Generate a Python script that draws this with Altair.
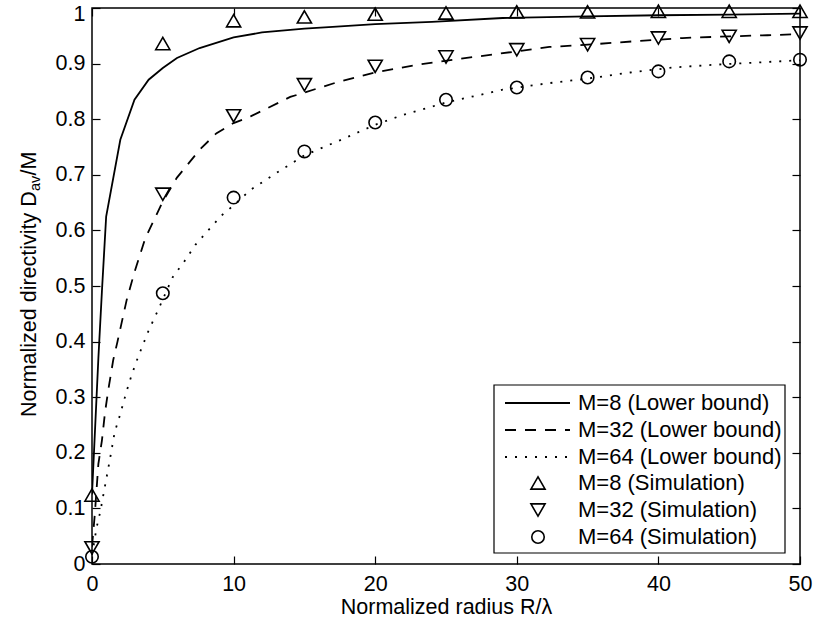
import altair as alt
import pandas as pd

FONT = "Liberation Sans"

# ---- data ----
x_sim = [0, 5, 10, 15, 20, 25, 30, 35, 40, 45, 50]
sim_m8 = [0.124, 0.936, 0.977, 0.984, 0.989, 0.991, 0.993, 0.993, 0.994, 0.994, 0.994]
sim_m32 = [0.029, 0.665, 0.806, 0.862, 0.895, 0.912, 0.925, 0.934, 0.946, 0.949, 0.955]
sim_m64 = [0.013, 0.487, 0.659, 0.742, 0.794, 0.835, 0.857, 0.875, 0.886, 0.904, 0.907]

lb8_x = [0, 0.45, 0.7, 1, 2, 3, 4, 5, 6, 7.6, 10, 12, 15, 17, 20, 24, 29, 35, 40, 45, 50]
lb8_y = [0.125, 0.37, 0.49, 0.625, 0.763, 0.835, 0.871, 0.892, 0.910, 0.928, 0.947, 0.956, 0.963,
         0.966, 0.971, 0.975, 0.982, 0.985, 0.987, 0.988, 0.990]

lb32_x = [0, 0.2, 0.45, 0.7, 0.92, 1.15, 1.5, 1.8, 2.45, 3.0, 3.75, 5, 6, 7.6, 8.8, 10, 11.2, 14,
          17.5, 20, 23, 27, 30, 32.3, 35, 38.2, 41.7, 45, 47.7, 50]
lb32_y = [0.031, 0.09, 0.18, 0.222, 0.273, 0.313, 0.367, 0.40, 0.475, 0.525, 0.585, 0.652, 0.695,
          0.745, 0.775, 0.793, 0.805, 0.84, 0.868, 0.884, 0.898, 0.912, 0.922, 0.93, 0.934, 0.94,
          0.946, 0.949, 0.951, 0.953]

lb64_x = [0, 0.33, 0.6, 0.9, 1.25, 1.6, 2, 2.4, 2.8, 3.25, 4, 4.6, 5.7, 6.6, 7.3, 8.2, 9.2, 10,
          11.2, 13, 15, 17.5, 20, 22, 25, 29, 32, 35, 38, 41, 44, 47, 50]
lb64_y = [0.016, 0.066, 0.096, 0.138, 0.186, 0.237, 0.27, 0.307, 0.34, 0.372, 0.42, 0.453, 0.516,
          0.547, 0.574, 0.60, 0.628, 0.645, 0.673, 0.703, 0.735, 0.762, 0.79, 0.808, 0.83, 0.853,
          0.864, 0.873, 0.884, 0.893, 0.898, 0.902, 0.906]

names_lb = ["M=8 (Lower bound)", "M=32 (Lower bound)", "M=64 (Lower bound)"]
names_sim = ["M=8 (Simulation)", "M=32 (Simulation)", "M=64 (Simulation)"]

x_ticks = [0, 10, 20, 30, 40, 50]
y_ticks = [0, 0.1, 0.2, 0.3, 0.4, 0.5, 0.6, 0.7, 0.8, 0.9, 1.0]

# ---- styling ----
W, H = 708, 556
FS = 21.5
TICK = 8
LW = 1.8
dashes = [None, [11, 9], [2, 8]]
shapes = ["triangle-up", "triangle-down", "circle"]
sizes = [200, 200, 155]

xs = alt.Scale(domain=[0, 50], nice=False, zero=False)
ys = alt.Scale(domain=[0, 1], nice=False, zero=False)

common_axis = dict(domain=False, grid=False, tickSize=TICK, offset=-TICK, tickColor="black",
                   tickWidth=1.2, labelColor="black", labelFont=FONT, labelFontSize=FS,
                   labelFlush=False, labelOverlap=False)

x_bottom = alt.Axis(orient="bottom", values=x_ticks, format="d", labelPadding=9,
                    title="Normalized radius R/λ", titleFont=FONT, titleFontSize=FS,
                    titleFontWeight="normal", titleColor="black", titlePadding=2, **common_axis)
y_left = alt.Axis(orient="left", values=y_ticks, format=".1~f", labelPadding=7, title=None,
                  labelOffset={"condition": {"test": "datum.value >= 1", "value": 6}, "value": 0},
                  **common_axis)
x_top = alt.Axis(orient="top", values=x_ticks, labels=False, title=None, **common_axis)
y_right = alt.Axis(orient="right", values=y_ticks, labels=False, title=None, **common_axis)

layers = []

lb_sets = [(lb8_x, lb8_y), (lb32_x, lb32_y), (lb64_x, lb64_y)]
for i, (lx, ly) in enumerate(lb_sets):
    df = pd.DataFrame({"x": lx, "y": ly, "series": names_lb[i]})
    kw = dict(color="black", strokeWidth=LW, clip=True)
    if dashes[i] is not None:
        kw["strokeDash"] = dashes[i]
    ax_x = x_bottom if i == 0 else None
    ax_y = y_left if i == 0 else None
    layers.append(
        alt.Chart(df).mark_line(**kw).encode(
            x=alt.X("x:Q", scale=xs, axis=ax_x),
            y=alt.Y("y:Q", scale=ys, axis=ax_y),
        )
    )

sim_sets = [sim_m8, sim_m32, sim_m64]
for i, sv in enumerate(sim_sets):
    df = pd.DataFrame({"x": x_sim, "y": sv, "series": names_sim[i]})
    ax_x = x_top if i == 0 else None
    ax_y = y_right if i == 0 else None
    layers.append(
        alt.Chart(df).mark_point(shape=shapes[i], size=sizes[i], filled=False, color="black",
                                 strokeWidth=1.6, opacity=1).encode(
            x=alt.X("x:Q", scale=xs, axis=ax_x),
            y=alt.Y("y:Q", scale=ys, axis=ax_y),
        )
    )

# ---- y-axis title with subscript ----
one = pd.DataFrame({"a": [0]})
ytitle_parts = [
    ("Normalized directivity D", FS, -56, 409),
    ("av", 14.5, -52, 183),
    ("/M", FS, -56, 167.5),
]
for txt, fs, px, py in ytitle_parts:
    layers.append(
        alt.Chart(pd.DataFrame({"t": [txt]})).mark_text(
            angle=270, align="left", baseline="alphabetic", font=FONT, fontSize=fs,
            color="black").encode(x=alt.value(px), y=alt.value(py), text="t:N")
    )

# ---- legend ----
LX0, LX1, LY0, LY1 = 402, 693, 377, 545
layers.append(
    alt.Chart(one).mark_rect(fill="white", stroke="black", strokeWidth=1.2).encode(
        x=alt.value(LX0), x2=alt.value(LX1), y=alt.value(LY0), y2=alt.value(LY1))
)
rows_y = [395, 422, 449, 475, 502, 529]
for i in range(3):
    kw = dict(color="black", strokeWidth=LW)
    if dashes[i] is not None:
        kw["strokeDash"] = dashes[i]
    layers.append(
        alt.Chart(one).mark_rule(**kw).encode(
            x=alt.value(413), x2=alt.value(478), y=alt.value(rows_y[i]))
    )
for i in range(3):
    layers.append(
        alt.Chart(one).mark_point(shape=shapes[i], size=sizes[i], filled=False, color="black",
                                  strokeWidth=1.6, opacity=1).encode(
            x=alt.value(446), y=alt.value(rows_y[3 + i]))
    )
all_names = names_lb + names_sim
for i, nm in enumerate(all_names):
    layers.append(
        alt.Chart(pd.DataFrame({"t": [nm]})).mark_text(
            align="left", baseline="middle", font=FONT, fontSize=22, color="black").encode(
            x=alt.value(486), y=alt.value(rows_y[i]), text="t:N")
    )

chart = alt.layer(*layers).resolve_axis(x="independent", y="independent").properties(
    width=W, height=H,
    padding={"left": 92, "top": 8, "right": 13, "bottom": 63},
    autosize=alt.AutoSizeParams(type="none"),
    background="white",
).configure_view(stroke="black", strokeWidth=1.5)

chart.save("out.html", embed_options={"renderer": "svg", "actions": False})
